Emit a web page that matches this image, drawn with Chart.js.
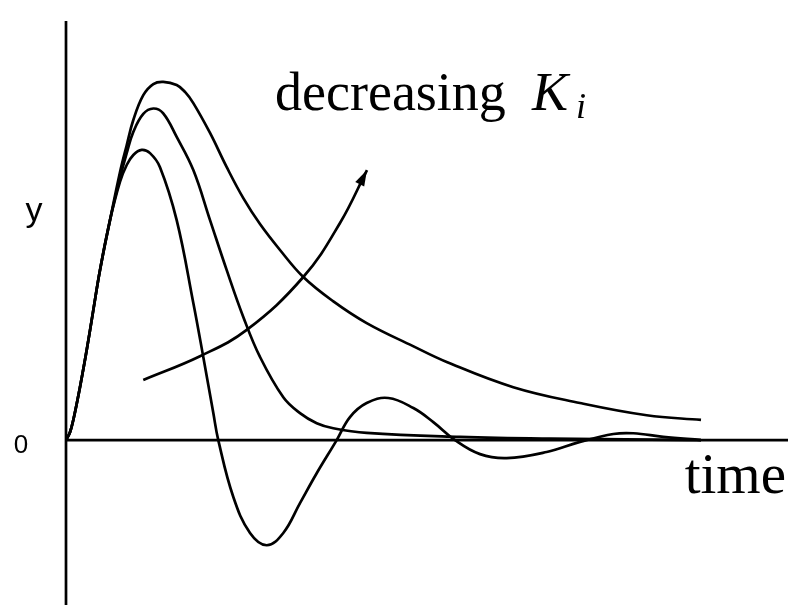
<!DOCTYPE html>
<html>
<head>
<meta charset="utf-8">
<script src="https://cdn.jsdelivr.net/npm/chart.js@4/dist/chart.umd.min.js"></script>
<style>
  html, body { margin: 0; padding: 0; background: #fff; }
  canvas { display: block; }
</style>
</head>
<body>
<canvas id="chart" width="788" height="605"></canvas>
<script>
// shared start of all three responses
const riseTime = [0, 0.063, 0.115, 0.220, 0.326, 0.430, 0.535, 0.693];
const riseY    = [0, 0.022, 0.056, 0.147, 0.250, 0.361, 0.472, 0.611];

// large Ki: oscillating response
const timeA = [0.850, 0.956, 1.060, 1.192, 1.323, 1.480, 1.743, 2.005, 2.162, 2.320, 2.398,
  2.635, 2.898, 3.161, 3.422, 3.685, 3.948, 4.263, 4.472, 4.735, 5.076, 5.470, 5.784,
  6.126, 6.520, 6.940, 7.570, 8.094, 8.619, 8.934, 9.406, 10];
const yA = [0.717, 0.764, 0.792, 0.806, 0.797, 0.758, 0.611, 0.381, 0.231, 0.075, 0,
  -0.158, -0.258, -0.292, -0.258, -0.175, -0.092, 0, 0.064, 0.103, 0.117, 0.089, 0.050,
  0, -0.039, -0.050, -0.033, -0.005, 0.017, 0.019, 0.009, 0];

// medium Ki
const timeB = [0.850, 0.956, 1.060, 1.217, 1.375, 1.528, 1.743, 2.005, 2.268, 2.531, 2.792,
  3.055, 3.422, 3.685, 3.948, 4.209, 4.735, 6.205, 7.622, 10];
const yB = [0.728, 0.797, 0.856, 0.906, 0.921, 0.908, 0.842, 0.750, 0.611, 0.472, 0.342,
  0.231, 0.119, 0.075, 0.047, 0.033, 0.020, 0.009, 0.004, 0];

// small Ki: slow decay
const timeC = [0.850, 0.956, 1.060, 1.217, 1.375, 1.532, 1.743, 1.874, 2.005, 2.268, 2.531, 2.792,
  3.055, 3.370, 3.737, 4.205, 4.735, 5.465, 5.995, 7.044, 8.094, 9.145, 10];
const yC = [0.744, 0.819, 0.889, 0.958, 0.989, 0.995, 0.986, 0.967, 0.936, 0.853, 0.758, 0.672,
  0.600, 0.528, 0.453, 0.386, 0.325, 0.261, 0.217, 0.147, 0.103, 0.069, 0.056];

// arrow pointing towards decreasing Ki
const arrowTime = [1.217, 2.110, 2.846, 3.737, 4.315, 4.740];
const arrowY    = [0.167, 0.233, 0.306, 0.453, 0.603, 0.750];

const toPoints = (ts, ys) => ts.map((t, i) => ({ x: t, y: ys[i] }));
const lineStyle = {
  borderColor: '#000',
  borderWidth: 2.7,
  pointRadius: 0,
  fill: false,
  tension: 0.4
};
const curve = (ts, ys) => ({
  data: toPoints(riseTime.concat(ts), riseY.concat(ys)),
  ...lineStyle
});

const sketchPlugin = {
  id: 'sketch',
  beforeDatasetsDraw(chart) {
    const { ctx, chartArea, scales: { x, y } } = chart;
    const x0 = x.getPixelForValue(0);
    const y0 = y.getPixelForValue(0);
    ctx.save();
    ctx.strokeStyle = '#000';
    ctx.lineWidth = 2.7;
    ctx.beginPath();
    ctx.moveTo(x0, chartArea.top);
    ctx.lineTo(x0, chartArea.bottom);
    ctx.moveTo(chartArea.left, y0);
    ctx.lineTo(chartArea.right, y0);
    ctx.stroke();
    ctx.restore();
  },
  afterDatasetsDraw(chart) {
    const { ctx, scales: { x, y } } = chart;
    ctx.save();

    // arrow head
    const n = arrowTime.length;
    const tx = x.getPixelForValue(arrowTime[n - 1]);
    const ty = y.getPixelForValue(arrowY[n - 1]);
    const px = x.getPixelForValue(arrowTime[n - 2]);
    const py = y.getPixelForValue(arrowY[n - 2]);
    const ang = Math.atan2(ty - py, tx - px);
    const len = 16, half = 5;
    ctx.fillStyle = '#000';
    ctx.beginPath();
    ctx.moveTo(tx, ty);
    ctx.lineTo(tx - len * Math.cos(ang) + half * Math.sin(ang), ty - len * Math.sin(ang) - half * Math.cos(ang));
    ctx.lineTo(tx - len * Math.cos(ang) - half * Math.sin(ang), ty - len * Math.sin(ang) + half * Math.cos(ang));
    ctx.closePath();
    ctx.fill();

    // labels
    ctx.textBaseline = 'alphabetic';
    ctx.textAlign = 'left';
    ctx.font = '54px "Liberation Serif"';
    ctx.fillText('decreasing', 275, 110);
    ctx.font = 'italic 54px "Liberation Serif"';
    ctx.fillText('K', 532, 110);
    ctx.font = 'italic 36px "Liberation Serif"';
    ctx.fillText('i', 576, 118);
    ctx.font = '57px "Liberation Serif"';
    ctx.textAlign = 'right';
    ctx.fillText('time', 786, 493);

    ctx.textAlign = 'center';
    ctx.font = '34px "Liberation Sans"';
    ctx.fillText('y', 34, 221);
    ctx.font = '26px "Liberation Sans"';
    ctx.fillText('0', 21, 453);
    ctx.restore();
  }
};

new Chart(document.getElementById('chart'), {
  type: 'line',
  data: {
    datasets: [
      curve(timeA, yA),
      curve(timeB, yB),
      curve(timeC, yC),
      { data: toPoints(arrowTime, arrowY), ...lineStyle }
    ]
  },
  options: {
    responsive: false,
    animation: false,
    events: [],
    layout: { padding: { left: 66, top: 21, right: 0, bottom: 0 } },
    scales: {
      x: { type: 'linear', min: 0, max: 11.37, display: false },
      y: { min: -0.458, max: 1.164, display: false }
    },
    plugins: {
      legend: { display: false },
      tooltip: { enabled: false }
    }
  },
  plugins: [sketchPlugin]
});
</script>
</body>
</html>
